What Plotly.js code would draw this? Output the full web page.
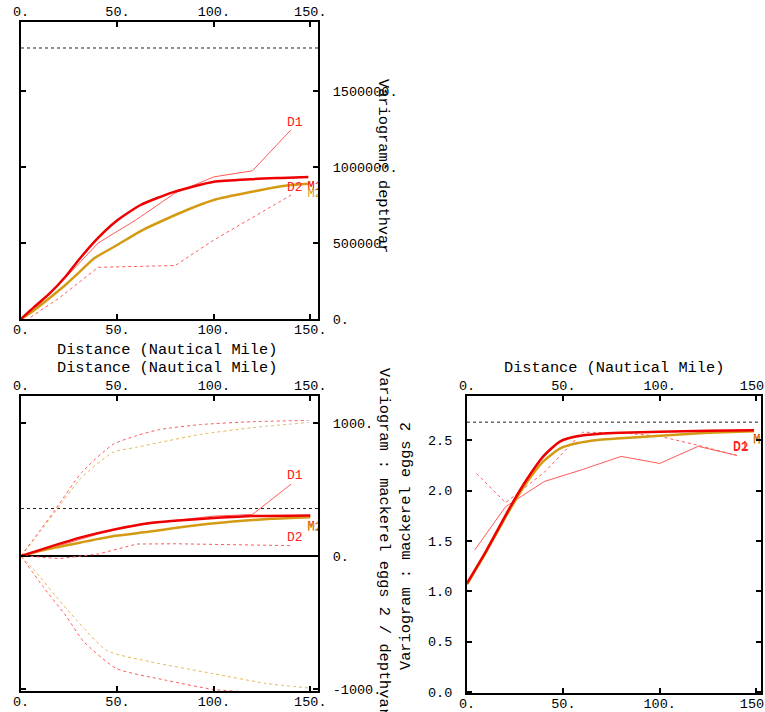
<!DOCTYPE html>
<html>
<head>
<meta charset="utf-8">
<script src="https://cdn.plot.ly/plotly-3.0.1.min.js"></script>
<style>html,body{margin:0;padding:0;background:#fff;}#chart{width:765px;height:712px;}</style>
</head>
<body>
<div id="chart"></div>
<script>
// ---------- tick labels ----------
const distTickVals = [0, 50, 100, 150];
const distTickText = ['0.', '50.', '100.', '150.'];
const depthTickVals = [0, 500000, 1000000, 1500000];
const depthTickText = ['0.', '500000.', '1000000.', '1500000.'];
const crossTickVals = [-1000, 0, 1000];
const crossTickText = ['-1000.', '0.', '1000.'];
const eggsTickVals = [0, 0.5, 1.0, 1.5, 2.0, 2.5];
const eggsTickText = ['0.0', '0.5', '1.0', '1.5', '2.0', '2.5'];

// ---------- panel 1 : depthvar ----------
const depthSill = 1783000;
const depthExpLag = [5, 20, 40, 60, 80, 100, 120, 140];
const depthExpD1 = [40000, 230000, 500000, 655000, 830000, 935000, 975000, 1245000];
const depthExpD2 = [12000, 140000, 340000, 345000, 352000, 520000, 670000, 815000];
const depthModelDistD1 = [0, 7, 15, 23, 30, 38, 49, 62, 79, 100, 119, 135, 149];
const depthModelD1 = [0, 81000, 170000, 278000, 390000, 508000, 640000, 750000, 835000, 903000, 920000, 928000, 934000];
const depthModelDistD2 = [0, 7, 15, 23, 30, 38, 49, 63, 86, 100, 119, 138, 149];
const depthModelD2 = [0, 60000, 140000, 224000, 305000, 400000, 480000, 585000, 717000, 783000, 835000, 878000, 890000];

// ---------- panel 2 : mackerel eggs 2 / depthvar ----------
const crossSill = 357;
const crossExpLagD1 = [5, 10, 20, 40, 60, 80, 100, 120, 140];
const crossExpD1 = [15, 35, 80, 165, 230, 268, 300, 312, 540];
const crossExpLagD2 = [5, 20, 40, 60, 80, 100, 120, 140];
const crossExpD2 = [-3, -20, 15, 90, 92, 88, 82, 78];
const crossModelDistD1 = [0, 14, 31, 49, 66, 78, 100, 120, 150];
const crossModelD1 = [0, 65, 140, 202, 247, 264, 285, 300, 305];
const crossModelDistD2 = [0, 14, 31, 49, 66, 78, 93, 110, 130, 150];
const crossModelD2 = [0, 52, 102, 152, 182, 207, 235, 260, 280, 292];
const envUpDist = [0, 10, 17.6, 31.4, 47.7, 60, 72, 93, 120, 149];
const envUpD1 = [0, 195, 345, 627, 839, 905, 951, 988, 1010, 1019];
const envUpD2 = [0, 185, 330, 590, 779, 818, 854, 914, 965, 1004];
const envLowDistD1 = [0, 11.4, 23.8, 32.3, 49.5, 75.5, 99.5, 115, 150];
const envLowD1 = [0, -230, -460, -640, -846, -935, -1003, -1020, -1040];
const envLowDistD2 = [0, 6.3, 23.8, 44.5, 67, 99.5, 127, 149];
const envLowD2 = [0, -97, -400, -710, -795, -884, -958, -992];

// ---------- panel 3 : mackerel eggs 2 ----------
const eggsSill = 2.68;
const eggsExpLagD1 = [4, 20, 40, 60, 80, 100, 120, 140];
const eggsExpD1 = [1.41, 1.84, 2.09, 2.21, 2.34, 2.27, 2.44, 2.35];
const eggsExpLagD2 = [5, 20, 40, 60, 80, 100, 120, 140];
const eggsExpD2 = [2.17, 1.88, 2.18, 2.58, 2.575, 2.54, 2.45, 2.35];
const eggsModelDist = [0, 10.2, 22.5, 31, 39.6, 48.4, 57, 69, 80, 100, 125, 149];
const eggsModelD1 = [1.08, 1.41, 1.84, 2.11, 2.34, 2.49, 2.54, 2.565, 2.575, 2.585, 2.595, 2.60];
const eggsModelD2 = [1.07, 1.40, 1.82, 2.08, 2.29, 2.42, 2.47, 2.505, 2.52, 2.545, 2.575, 2.59];

// ---------- labels ----------
const labelNames = ['D1', 'D2'];
const modelNames = ['M1', 'M2'];
const depthLabelY = [1296000, 868000];
const crossLabelY = [607, 142];
const eggsLabelY = [2.435, 2.425];
const labelX = 142;
const depthModelLabelY = [868000, 822000];
const crossModelLabelY = [218, 213];
const eggsModelLabelY = [2.50, 2.495];
const modelLabelX = 148.6;

const xMax = 154, xMax3 = 152.6;
const FONT = '"Liberation Mono", "Courier New", monospace';
const RED = '#ee0000', PINK = '#ff5a5a', GOLD = '#d49a12', GOLDL = '#e8b85a';
const W = 765, H = 712;

const traces = [];
function line(x, y, xa, ya, color, width, dash, shape) {
  traces.push({x: x, y: y, xaxis: xa, yaxis: ya, type: 'scatter', mode: 'lines',
    line: {color: color, width: width, dash: dash || 'solid', shape: shape || 'linear', smoothing: 0.6},
    hoverinfo: 'skip', showlegend: false});
}
function sill(v, xa, ya, xm) {
  traces.push({x: [0, xm], y: [v, v], xaxis: xa, yaxis: ya, type: 'scatter', mode: 'lines',
    line: {color: '#222', width: 1, dash: '3px,3px'}, hoverinfo: 'skip', showlegend: false});
}
function mtext(x, y, xa, ya, txt, color) {
  traces.push({x: [x], y: [y], xaxis: xa, yaxis: ya, type: 'scatter', mode: 'text', text: [txt],
    textposition: 'middle right', cliponaxis: true,
    textfont: {family: FONT, size: 12, color: color}, hoverinfo: 'skip', showlegend: false});
}

// panel 1
sill(depthSill, 'x', 'y', xMax);
line(depthExpLag, depthExpD2, 'x', 'y', PINK, 1, '3px,3px');
line(depthExpLag, depthExpD1, 'x', 'y', PINK, 1);
line(depthModelDistD2, depthModelD2, 'x', 'y', GOLD, 2.5, 'solid', 'spline');
line(depthModelDistD1, depthModelD1, 'x', 'y', RED, 2.5, 'solid', 'spline');
mtext(modelLabelX, depthModelLabelY[0], 'x', 'y', modelNames[0], RED);
mtext(modelLabelX, depthModelLabelY[1], 'x', 'y', modelNames[1], GOLD);

// panel 2
sill(crossSill, 'x2', 'y2', xMax);
line(envUpDist, envUpD2, 'x2', 'y2', GOLDL, 1, '3px,3px', 'spline');
line(envUpDist, envUpD1, 'x2', 'y2', PINK, 1, '3px,3px', 'spline');
line(envLowDistD2, envLowD2, 'x2', 'y2', GOLDL, 1, '3px,3px', 'spline');
line(envLowDistD1, envLowD1, 'x2', 'y2', PINK, 1, '3px,3px', 'spline');
line(crossExpLagD2, crossExpD2, 'x2', 'y2', PINK, 1, '3px,3px');
line(crossExpLagD1, crossExpD1, 'x2', 'y2', PINK, 1);
line(crossModelDistD2, crossModelD2, 'x2', 'y2', GOLD, 2.5, 'solid', 'spline');
line(crossModelDistD1, crossModelD1, 'x2', 'y2', RED, 2.5, 'solid', 'spline');
mtext(modelLabelX, crossModelLabelY[0], 'x2', 'y2', modelNames[0], RED);
mtext(modelLabelX, crossModelLabelY[1], 'x2', 'y2', modelNames[1], GOLD);

// panel 3
sill(eggsSill, 'x3', 'y3', xMax3);
line(eggsExpLagD2, eggsExpD2, 'x3', 'y3', PINK, 1, '3px,3px');
line(eggsExpLagD1, eggsExpD1, 'x3', 'y3', PINK, 1);
line(eggsModelDist, eggsModelD2, 'x3', 'y3', GOLD, 2.5, 'solid', 'spline');
line(eggsModelDist, eggsModelD1, 'x3', 'y3', RED, 2.5, 'solid', 'spline');
mtext(modelLabelX, eggsModelLabelY[0], 'x3', 'y3', modelNames[0], RED);
mtext(modelLabelX, eggsModelLabelY[1], 'x3', 'y3', modelNames[1], GOLD);

const tickFont = {family: FONT, size: 13.5, color: '#000'};
function xMain(dom, anchor, range) {
  return {domain: dom, anchor: anchor, range: range, side: 'bottom', tickvals: distTickVals, ticktext: distTickText,
    ticks: 'inside', ticklen: 5, tickwidth: 2, tickcolor: '#000', mirror: 'ticks', showline: true, linewidth: 2,
    linecolor: '#000', showgrid: false, zeroline: false, tickfont: tickFont, ticklabelstandoff: -3,
    ticklabeloverflow: 'allow', fixedrange: true};
}
function xTop(over, anchor, range) {
  return {overlaying: over, anchor: anchor, range: range, side: 'top', tickvals: distTickVals, ticktext: distTickText,
    ticks: '', showline: false, showgrid: false, zeroline: false, tickfont: tickFont, ticklabelstandoff: 2,
    ticklabeloverflow: 'allow', fixedrange: true};
}
function yAx(dom, anchor, range, side, vals, text, standoff, extra) {
  return Object.assign({domain: dom, anchor: anchor, range: range, side: side, tickvals: vals, ticktext: text,
    ticks: 'inside', ticklen: 5, tickwidth: 2, tickcolor: '#000', mirror: 'ticks', showline: true, linewidth: 2,
    linecolor: '#000', showgrid: false, zeroline: false, tickfont: tickFont, ticklabelstandoff: standoff,
    ticklabeloverflow: 'allow', fixedrange: true}, extra || {});
}
const dxL = [21 / W, 318 / W], dxR = [467 / W, 761 / W];
const dyT = [1 - 319 / H, 1 - 22 / H], dyB = [1 - 691 / H, 1 - 396 / H], dyB3 = [1 - 693 / H, 1 - 396 / H];

function ann(text, px, py, angle, size, color, ref) {
  const a = {text: text, showarrow: false, font: {family: FONT, size: size, color: color || '#000'},
    xanchor: 'center', yanchor: 'middle', textangle: angle || 0};
  if (ref) { a.xref = ref[0]; a.yref = ref[1]; a.x = px; a.y = py; }
  else { a.xref = 'paper'; a.yref = 'paper'; a.x = px / W; a.y = 1 - py / H; }
  return a;
}
const annotations = [
  ann('Distance (Nautical Mile)', 167, 350, 0, 15.3),
  ann('Distance (Nautical Mile)', 167, 368, 0, 15.3),
  ann('Distance (Nautical Mile)', 614, 368, 0, 15.3),
  ann('Variogram: depthvar', 383, 166, 90, 15.3),
  ann('Variogram : mackerel eggs 2 / depthvar', 384, 542, 90, 15.3),
  ann('Variogram : mackerel eggs 2', 406, 546, -90, 15.3),
  ann(labelNames[0], labelX, depthLabelY[0], 0, 13, '#ff2020', ['x', 'y']),
  ann(labelNames[1], labelX, depthLabelY[1], 0, 13, '#ff2020', ['x', 'y']),
  ann(labelNames[0], labelX, crossLabelY[0], 0, 13, '#ff2020', ['x2', 'y2']),
  ann(labelNames[1], labelX, crossLabelY[1], 0, 13, '#ff2020', ['x2', 'y2']),
  ann(labelNames[0], labelX, eggsLabelY[0], 0, 13, '#ff2020', ['x3', 'y3']),
  ann(labelNames[1], labelX, eggsLabelY[1], 0, 13, '#ff2020', ['x3', 'y3'])
];

const layout = {
  width: W, height: H, margin: {l: 0, r: 0, t: 0, b: 0}, paper_bgcolor: '#fff', plot_bgcolor: '#fff',
  showlegend: false, font: {family: FONT, size: 13.5, color: '#000'},
  xaxis: xMain(dxL, 'y', [0, xMax]),
  xaxis2: xMain(dxL, 'y2', [0, xMax]),
  xaxis3: xMain(dxR, 'y3', [0, xMax3]),
  xaxis4: xTop('x', 'y', [0, xMax]),
  xaxis5: xTop('x2', 'y2', [0, xMax]),
  xaxis6: xTop('x3', 'y3', [0, xMax3]),
  yaxis: yAx(dyT, 'x', [0, 1954000], 'right', depthTickVals, depthTickText, 10),
  yaxis2: yAx(dyB, 'x2', [-1015, 1203], 'right', crossTickVals, crossTickText, 10,
    {zeroline: true, zerolinecolor: '#000', zerolinewidth: 1.5}),
  yaxis3: yAx(dyB3, 'x3', [-0.01, 2.94], 'left', eggsTickVals, eggsTickText, 10),
  annotations: annotations
};
// invisible anchors so the top label axes render
traces.push({x: [0], y: [0], xaxis: 'x4', yaxis: 'y', mode: 'markers', marker: {opacity: 0}, hoverinfo: 'skip', showlegend: false});
traces.push({x: [0], y: [0], xaxis: 'x5', yaxis: 'y2', mode: 'markers', marker: {opacity: 0}, hoverinfo: 'skip', showlegend: false});
traces.push({x: [0], y: [0], xaxis: 'x6', yaxis: 'y3', mode: 'markers', marker: {opacity: 0}, hoverinfo: 'skip', showlegend: false});

Plotly.newPlot('chart', traces, layout, {staticPlot: true, displayModeBar: false});
</script>
</body>
</html>
